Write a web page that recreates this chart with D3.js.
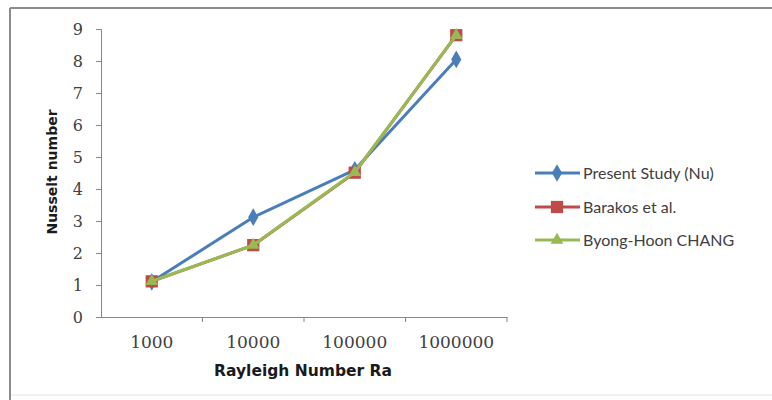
<!DOCTYPE html>
<html>
<head>
<meta charset="utf-8">
<script src="https://cdn.jsdelivr.net/npm/d3@7"></script>
<style>
  html, body { margin: 0; padding: 0; background: #fff; }
  svg { display: block; }
  text { font-family: Lato, "Open Sans", sans-serif; }
</style>
</head>
<body>
<svg id="chart" width="772" height="400"></svg>
<script>
// Rayleigh number categories
const categories = ["1000", "10000", "100000", "1000000"];
// Average Nusselt number per study
const presentStudy = [1.10, 3.12, 4.60, 8.05];
const barakos = [1.114, 2.245, 4.51, 8.806];
const chang = [1.118, 2.245, 4.523, 8.80];
const yTicks = [0, 1, 2, 3, 4, 5, 6, 7, 8, 9];

const series = [
  { name: "Present Study (Nu)", values: presentStudy, color: "#4a7ebb", marker: "diamond" },
  { name: "Barakos et al.", values: barakos, color: "#be4b48", marker: "square" },
  { name: "Byong-Hoon CHANG", values: chang, color: "#98b954", marker: "triangle" }
];

const svg = d3.select("#chart");

// outer chart frame: dark top and left edges, faint bottom edge
svg.append("line").attr("x1", 10).attr("x2", 772).attr("y1", 8).attr("y2", 8)
  .attr("stroke", "#8c8c8c").attr("stroke-width", 2);
svg.append("line").attr("x1", 10).attr("x2", 10).attr("y1", 8).attr("y2", 400)
  .attr("stroke", "#8c8c8c").attr("stroke-width", 2);
svg.append("line").attr("x1", 11).attr("x2", 772).attr("y1", 395).attr("y2", 395)
  .attr("stroke", "#ececec").attr("stroke-width", 1.5);

const plot = { left: 101, right: 507, top: 29, bottom: 317 };

const x = d3.scaleBand().domain(categories).range([plot.left, plot.right]);
const y = d3.scaleLinear().domain([0, 9]).range([plot.bottom, plot.top]);

const tickFont = "'DejaVu Serif', serif";
const titleFont = "'DejaVu Sans', sans-serif";

// y axis
const yAxis = svg.append("g")
  .attr("transform", `translate(${plot.left},0)`)
  .call(d3.axisLeft(y).tickValues(yTicks).tickSize(5).tickPadding(13).tickFormat(d3.format("d")));
// x axis, ticks on the band boundaries
const xAxis = svg.append("g")
  .attr("transform", `translate(0,${plot.bottom})`)
  .call(d3.axisBottom(x).tickSize(0).tickPadding(19));
xAxis.selectAll(".bound")
  .data(categories)
  .enter().append("line")
  .attr("class", "bound")
  .attr("x1", d => x(d) + x.bandwidth()).attr("x2", d => x(d) + x.bandwidth())
  .attr("y1", 0).attr("y2", 5)
  .attr("stroke", "#868686");

[yAxis, xAxis].forEach(g => {
  g.select(".domain").attr("stroke", "#868686").attr("stroke-width", 1);
  g.selectAll(".tick line").attr("stroke", "#868686");
  g.selectAll(".tick text").attr("fill", "#404040")
    .style("font-family", tickFont);
});
yAxis.selectAll(".tick text").style("font-size", "16px");
xAxis.selectAll(".tick text").style("font-size", "17px");

// axis titles
svg.append("text")
  .attr("transform", "translate(57,172) rotate(-90)")
  .attr("text-anchor", "middle")
  .style("font-family", titleFont)
  .style("font-size", "14px").style("font-weight", "bold").attr("fill", "#1a1a1a")
  .text("Nusselt number");
svg.append("text")
  .attr("x", 303).attr("y", 376)
  .attr("text-anchor", "middle")
  .style("font-family", titleFont)
  .style("font-size", "15.5px").style("font-weight", "bold").attr("fill", "#1a1a1a")
  .text("Rayleigh Number Ra");

const cx = d => x(d) + x.bandwidth() / 2;
const line = d3.line().x((v, i) => cx(categories[i])).y(v => y(v));

const symbolFor = { diamond: d3.symbolDiamond, square: d3.symbolSquare, triangle: d3.symbolTriangle };
const sizeFor = { diamond: 90, square: 150, triangle: 70 };

function drawMarker(g, s, px, py) {
  g.append("path")
    .attr("d", d3.symbol().type(symbolFor[s.marker]).size(sizeFor[s.marker])())
    .attr("transform", `translate(${px},${py})`)
    .attr("fill", s.color);
}

series.forEach(s => {
  const g = svg.append("g");
  g.append("path")
    .datum(s.values)
    .attr("d", line)
    .attr("fill", "none")
    .attr("stroke", s.color)
    .attr("stroke-width", 3)
    .attr("stroke-linejoin", "round");
  s.values.forEach((v, i) => drawMarker(g, s, cx(categories[i]), y(v)));
});

// legend
const legendRows = [173, 207, 240];
series.forEach((s, i) => {
  const g = svg.append("g");
  const ly = legendRows[i];
  g.append("line")
    .attr("x1", 535).attr("x2", 580).attr("y1", ly).attr("y2", ly)
    .attr("stroke", s.color).attr("stroke-width", 3);
  drawMarker(g, s, 557, ly);
  g.append("text")
    .attr("x", 583).attr("y", ly + 5.5)
    .style("font-size", "16px").attr("fill", "#404040")
    .text(s.name);
});
</script>
</body>
</html>
